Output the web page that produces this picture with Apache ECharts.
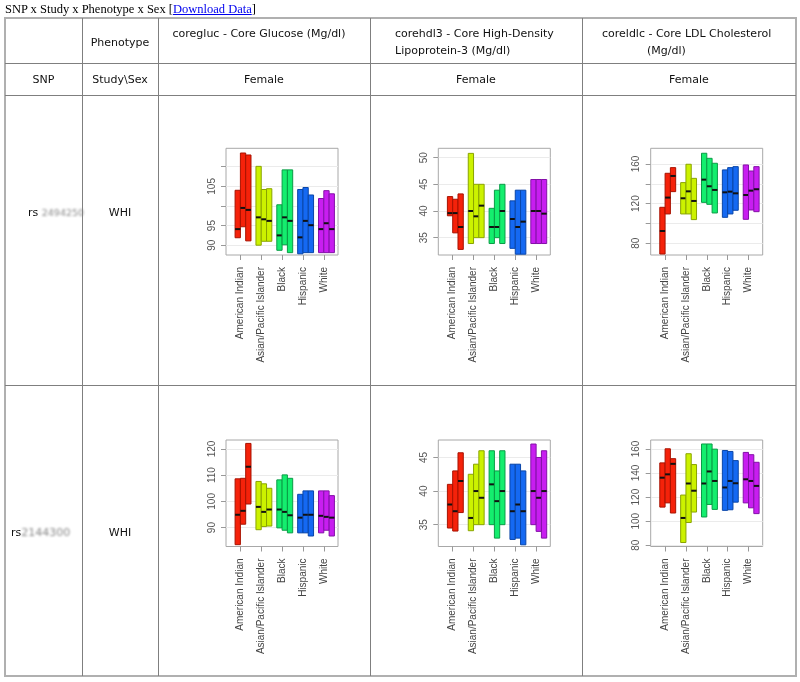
<!DOCTYPE html>
<html>
<head>
<meta charset="utf-8">
<script src="https://cdn.jsdelivr.net/npm/echarts@6/dist/echarts.min.js"></script>
<style>
html,body{margin:0;padding:0;background:#fff;width:800px;height:682px;overflow:hidden;}
#chart{position:absolute;left:0;top:0;width:800px;height:682px;}
.t{position:absolute;font-family:"DejaVu Sans",Verdana,sans-serif;font-size:11px;color:#111;white-space:nowrap;line-height:13px;}
.c{transform:translate(-50%,-50%);}
.m{transform:translateY(-50%);}
.h{position:absolute;height:1px;background:#7f7f7f;}
.v{position:absolute;width:1px;background:#7f7f7f;}
.blur{color:#888;filter:blur(1.3px);}
</style>
</head>
<body>
<div id="chart"></div>

<div style="position:absolute;left:5px;top:2px;font:12.5px/15px 'Liberation Serif','Times New Roman',serif;color:#000;white-space:nowrap;">SNP x Study x Phenotype x Sex [<a style="color:#0000ee;text-decoration:underline;">Download Data</a>]</div>

<div style="position:absolute;left:4px;top:17px;width:793px;height:660px;box-sizing:border-box;border:2px solid #b0b0b0;"></div>
<div class="h" style="left:5px;width:791px;top:63px;"></div>
<div class="h" style="left:5px;width:791px;top:95px;"></div>
<div class="h" style="left:5px;width:791px;top:385px;"></div>
<div class="v" style="left:82px;top:18px;height:658px;"></div>
<div class="v" style="left:158px;top:18px;height:658px;"></div>
<div class="v" style="left:370px;top:18px;height:658px;"></div>
<div class="v" style="left:582px;top:18px;height:658px;"></div>

<div class="t c" style="left:120px;top:41.5px;">Phenotype</div>
<div class="t c" style="left:259px;top:33px;">coregluc - Core Glucose (Mg/dl)</div>
<div class="t m" style="left:395px;top:33px;">corehdl3 - Core High-Density</div>
<div class="t m" style="left:395px;top:50px;">Lipoprotein-3 (Mg/dl)</div>
<div class="t m" style="left:602px;top:33px;">coreldlc - Core LDL Cholesterol</div>
<div class="t m" style="left:647px;top:50px;">(Mg/dl)</div>

<div class="t c" style="left:43.5px;top:79px;">SNP</div>
<div class="t c" style="left:120px;top:79px;">Study\Sex</div>
<div class="t c" style="left:264px;top:79px;">Female</div>
<div class="t c" style="left:476px;top:79px;">Female</div>
<div class="t c" style="left:689px;top:79px;">Female</div>

<div class="t m" style="left:28px;top:212px;">rs <span class="blur" style="font-size:9.5px;">2494250</span></div>
<div class="t c" style="left:120px;top:212px;">WHI</div>
<div class="t m" style="left:11px;top:531.5px;">rs<span class="blur">2144300</span></div>
<div class="t c" style="left:120px;top:531.5px;">WHI</div>

<script>
// ---- categories ----
const categories = ['American Indian', 'Asian/Pacific Islander', 'Black', 'Hispanic', 'White'];

// ---- rs 2494250 / coregluc ----
const glucA_low  = [91.9, 94.7, 91.1, 90.0, 91.0, 91.0, 88.7, 90.1, 88.1, 87.8, 88.1, 88.1, 88.1, 88.1, 88.1];
const glucA_high = [104.0, 113.5, 113.0, 110.1, 104.2, 104.4, 100.3, 109.2, 109.2, 104.2, 104.7, 102.8, 101.9, 103.9, 103.1];
const glucA_med  = [94.1, 99.5, 99.0, 97.1, 96.6, 96.2, 92.5, 97.1, 96.2, 92.0, 96.2, 95.1, 94.1, 95.6, 94.1];
const glucA_ticks  = [90, 95, 100, 105, 110];
const glucA_labels = [90, 95, 105];

// ---- rs 2494250 / corehdl3 ----
const hdlA_low  = [39.1, 35.9, 32.8, 33.9, 35.0, 35.0, 33.9, 35.0, 33.9, 33.0, 31.9, 31.9, 33.9, 33.9, 33.9];
const hdlA_high = [42.7, 42.2, 43.2, 50.8, 45.0, 45.0, 40.5, 43.9, 45.0, 41.9, 43.9, 43.9, 45.9, 45.9, 45.9];
const hdlA_med  = [39.6, 39.6, 37.0, 40.0, 39.0, 41.0, 37.0, 37.0, 40.0, 38.5, 37.0, 38.0, 40.0, 40.0, 39.5];
const hdlA_ticks  = [35, 40, 45, 50];
const hdlA_labels = [35, 40, 45, 50];

// ---- rs 2494250 / coreldlc ----
const ldlA_low  = [69.2, 109.6, 132.1, 109.6, 109.6, 103.9, 121.3, 119.3, 110.6, 106.2, 109.6, 113.3, 104.2, 113.6, 111.9];
const ldlA_high = [116.3, 150.6, 156.3, 141.2, 159.7, 145.5, 170.8, 165.7, 160.7, 154.0, 156.3, 157.3, 159.0, 152.9, 157.3];
const ldlA_med  = [92.4, 126.1, 147.9, 125.4, 132.4, 122.7, 144.2, 137.5, 133.8, 131.4, 132.1, 130.4, 128.7, 133.1, 134.5];
const ldlA_ticks  = [80, 100, 120, 140, 160];
const ldlA_labels = [80, 120, 160];

// ---- rs2144300 / coregluc ----
const glucB_low  = [83.5, 91.3, 99.0, 89.2, 90.4, 90.6, 89.9, 89.0, 88.0, 88.0, 88.0, 86.8, 88.0, 89.0, 86.8];
const glucB_high = [108.6, 108.8, 122.1, 107.6, 106.7, 105.0, 108.2, 110.1, 108.8, 102.7, 104.0, 104.0, 104.0, 104.0, 102.2];
const glucB_med  = [94.9, 96.4, 113.2, 97.9, 96.0, 96.9, 96.9, 96.0, 94.7, 93.8, 94.9, 94.9, 94.5, 94.1, 93.8];
const glucB_ticks  = [90, 100, 110, 120];
const glucB_labels = [90, 100, 110, 120];

// ---- rs2144300 / corehdl3 ----
const hdlB_low  = [34.5, 34.05, 36.8, 34.1, 35.0, 35.0, 35.0, 33.0, 35.0, 32.8, 33.0, 32.0, 35.0, 34.0, 33.0];
const hdlB_high = [41.0, 43.0, 45.7, 42.5, 44.0, 46.0, 46.0, 43.0, 46.0, 44.0, 44.0, 43.0, 47.0, 45.0, 46.0];
const hdlB_med  = [38.0, 37.0, 41.5, 36.0, 40.0, 39.0, 41.0, 38.5, 40.0, 37.0, 38.0, 37.0, 40.0, 39.0, 40.0];
const hdlB_ticks  = [35, 40, 45];
const hdlB_labels = [35, 40, 45];

// ---- rs2144300 / coreldlc ----
const ldlB_low  = [111.7, 115.2, 106.8, 82.3, 98.9, 107.6, 103.5, 113.9, 109.8, 109.0, 109.5, 115.8, 115.2, 111.1, 106.3];
const ldlB_high = [148.4, 160.1, 151.9, 121.7, 156.0, 147.0, 164.1, 164.1, 159.8, 158.7, 157.9, 150.3, 157.1, 155.2, 148.9];
const ldlB_med  = [136.1, 138.9, 147.6, 102.7, 131.3, 125.3, 131.3, 141.3, 133.4, 128.0, 133.4, 131.5, 134.8, 133.4, 129.3];
const ldlB_ticks  = [80, 100, 120, 140, 160];
const ldlB_labels = [80, 100, 120, 140, 160];

// ---- styling / layout ----
const FILLS = ['#f5220a', '#ccf200', '#14ee6e', '#1569f2', '#c81ef0'];
const EDGES = ['#a81200', '#8aa400', '#0a9c46', '#0a46a8', '#8410a8'];
const BAR_W = 0.254;
const panels = [
  {low: glucA_low, high: glucA_high, med: glucA_med, ticks: glucA_ticks, labels: glucA_labels, ymin: 87.5, ymax: 114.7, left: 226,   top: 148.3, h: 106.7},
  {low: hdlA_low,  high: hdlA_high,  med: hdlA_med,  ticks: hdlA_ticks,  labels: hdlA_labels,  ymin: 31.75, ymax: 51.75, left: 438.3, top: 148.3, h: 106.7},
  {low: ldlA_low,  high: ldlA_high,  med: ldlA_med,  ticks: ldlA_ticks,  labels: ldlA_labels,  ymin: 68.2, ymax: 175.8, left: 650.7, top: 148.3, h: 106.7},
  {low: glucB_low, high: glucB_high, med: glucB_med, ticks: glucB_ticks, labels: glucB_labels, ymin: 82.8, ymax: 123.4, left: 226,   top: 440,   h: 106.5},
  {low: hdlB_low,  high: hdlB_high,  med: hdlB_med,  ticks: hdlB_ticks,  labels: hdlB_labels,  ymin: 31.75, ymax: 47.6, left: 438.3, top: 440,   h: 106.5},
  {low: ldlB_low,  high: ldlB_high,  med: ldlB_med,  ticks: ldlB_ticks,  labels: ldlB_labels,  ymin: 79.0, ymax: 167.4, left: 650.7, top: 440,   h: 106.5}
];
const groupTicks = categories.map((c, i) => i + 1);

function renderItem(params, api) {
  const g = api.value(0), k = api.value(1);
  const xl = g - BAR_W + k * BAR_W, xr = xl + BAR_W;
  const tl = api.coord([xl, api.value(3)]);
  const br = api.coord([xr, api.value(2)]);
  const md = api.coord([xl, api.value(4)]);
  const ci = Math.round(g) - 1;
  return {
    type: 'group',
    children: [
      {type: 'rect', shape: {x: tl[0], y: tl[1], width: br[0] - tl[0], height: br[1] - tl[1]},
       style: {fill: FILLS[ci], stroke: EDGES[ci], lineWidth: 1}},
      {type: 'line', shape: {x1: tl[0], y1: md[1], x2: br[0], y2: md[1]},
       style: {stroke: '#111', lineWidth: 2}}
    ]
  };
}

const grid = [], xAxis = [], yAxis = [], series = [];
panels.forEach((p, i) => {
  grid.push({left: p.left, top: p.top, width: 112, height: p.h, show: true,
             borderColor: '#a8a8a8', borderWidth: 1, backgroundColor: 'transparent', containLabel: false});
  xAxis.push({
    gridIndex: i, type: 'value', min: 0.31, max: 5.68,
    axisLine: {show: false},
    axisTick: {show: true, length: 5, customValues: groupTicks, lineStyle: {color: '#999'}},
    axisLabel: {show: true, rotate: 90, fontSize: 10, margin: 12, color: '#444',
                fontFamily: 'Liberation Sans, Arial, sans-serif', customValues: groupTicks,
                formatter: v => categories[Math.round(v) - 1] || ''},
    splitLine: {show: false}
  });
  yAxis.push({
    gridIndex: i, type: 'value', min: p.ymin, max: p.ymax,
    axisLine: {show: false},
    axisTick: {show: true, length: 5, customValues: p.ticks, lineStyle: {color: '#999'}},
    axisLabel: {show: true, rotate: 90, fontSize: 10, margin: 9, color: '#555',
                fontFamily: 'Liberation Sans, Arial, sans-serif', customValues: p.labels},
    splitLine: {show: true, lineStyle: {color: '#ebebeb', width: 1}}
  });
  const data = p.low.map((lo, j) => [Math.floor(j / 3) + 1, j % 3, lo, p.high[j], p.med[j]]);
  series.push({type: 'custom', xAxisIndex: i, yAxisIndex: i, renderItem, data,
               encode: {x: 0, y: [2, 3]}, silent: true, clip: false});
});

const chart = echarts.init(document.getElementById('chart'), null, {renderer: 'canvas'});
chart.setOption({animation: false, grid, xAxis, yAxis, series});
</script>
</body>
</html>
